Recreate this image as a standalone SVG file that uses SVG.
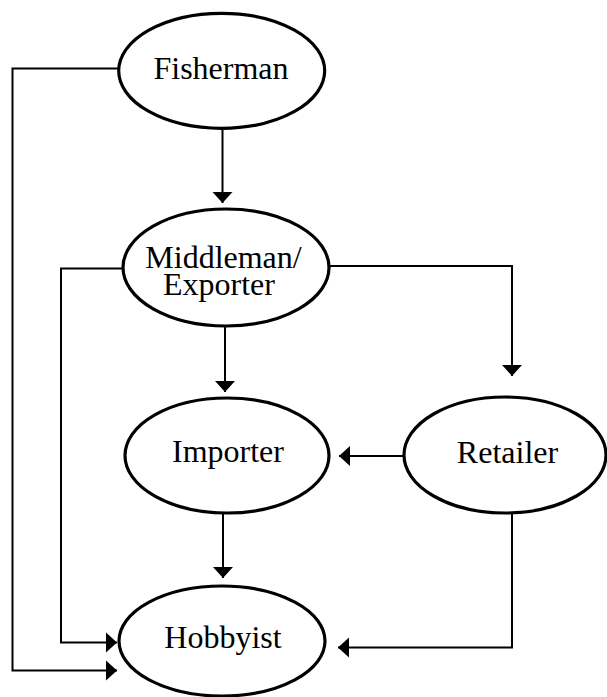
<svg xmlns="http://www.w3.org/2000/svg" width="607" height="697" viewBox="0 0 607 697">
  <style>
    .node ellipse { fill: #ffffff; stroke: #000000; stroke-width: 3.2; }
    .node text { font-family: "Liberation Serif", "Times New Roman", serif; font-size: 32px; fill: #000000; text-anchor: middle; }
    .edge { fill: none; stroke: #000000; stroke-width: 2; marker-end: url(#arrow); }
  </style>
  <defs>
    <marker id="arrow" markerUnits="userSpaceOnUse" markerWidth="12" markerHeight="22" refX="11" refY="10.5" orient="auto" viewBox="0 0 12 22">
      <path d="M0,0.5 L11,10.5 L0,20.5 Z" fill="#000000"/>
    </marker>
  </defs>
  <rect width="607" height="697" fill="#ffffff"/>
  <g id="connectors">
    <path class="edge" d="M222.5,128 V203"/>
    <path class="edge" d="M118,68.5 H12.5 V670.5 H117"/>
    <path class="edge" d="M123,268.5 H61 V642.5 H117"/>
    <path class="edge" d="M329,266 H512 V376"/>
    <path class="edge" d="M225,326 V392"/>
    <path class="edge" d="M404,456 H339"/>
    <path class="edge" d="M223,513 V578"/>
    <path class="edge" d="M512,513 V647.5 H338"/>
  </g>
  <g id="fisherman" class="node">
    <ellipse cx="221.7" cy="70.8" rx="103" ry="57.5"/>
    <text x="221" y="79">Fisherman</text>
  </g>
  <g id="middleman" class="node">
    <ellipse cx="226" cy="267.5" rx="103" ry="58.5"/>
    <text x="223.5" y="268">Middleman/</text>
    <text x="219" y="295">Exporter</text>
  </g>
  <g id="importer" class="node">
    <ellipse cx="227" cy="455.5" rx="102" ry="57.5"/>
    <text x="228" y="462">Importer</text>
  </g>
  <g id="retailer" class="node">
    <ellipse cx="505" cy="455" rx="101" ry="58"/>
    <text x="507.5" y="463">Retailer</text>
  </g>
  <g id="hobbyist" class="node">
    <ellipse cx="222" cy="641" rx="103" ry="55"/>
    <text x="223" y="648">Hobbyist</text>
  </g>
</svg>
